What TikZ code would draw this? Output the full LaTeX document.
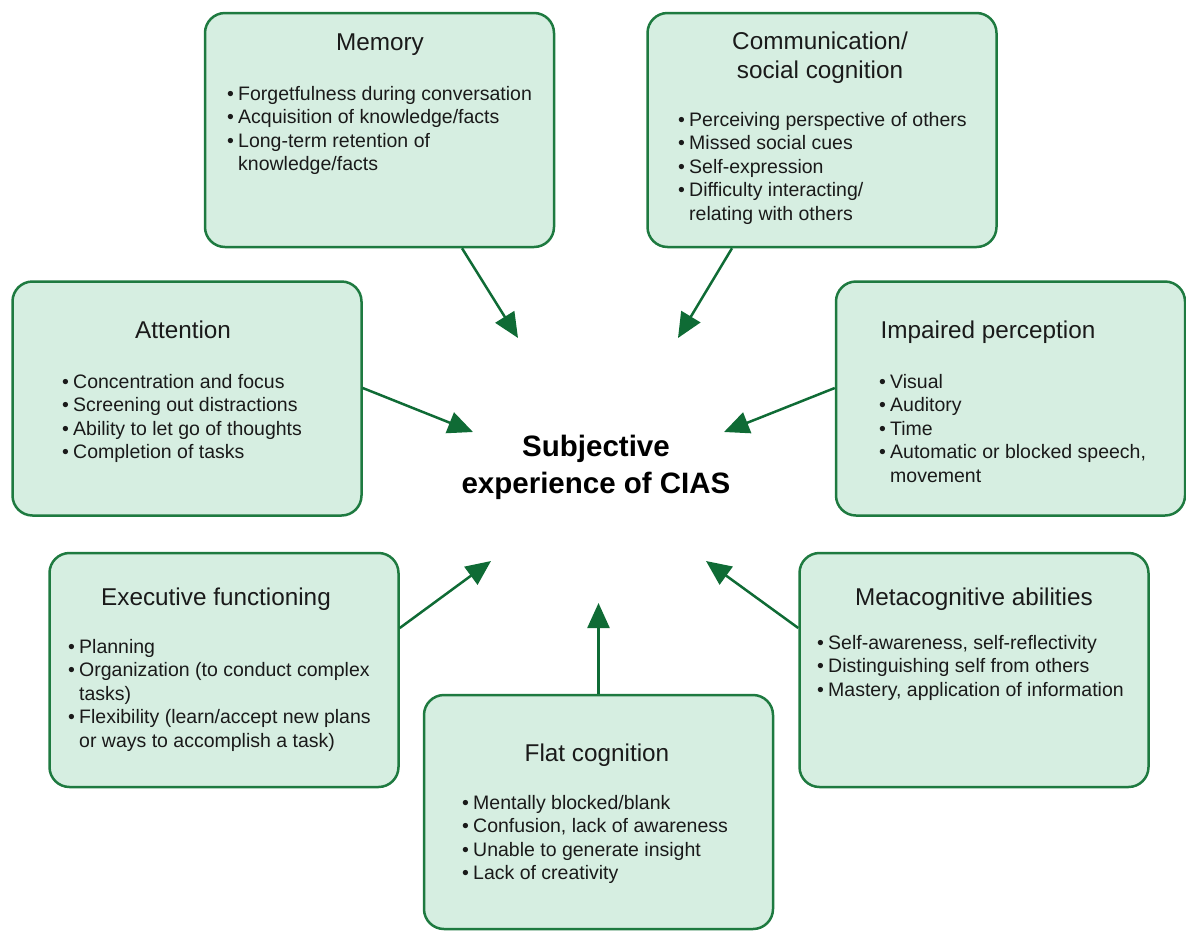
\documentclass[tikz,border=0pt]{standalone}
\usepackage{fontspec}
\setmainfont{Liberation Sans}
\usetikzlibrary{arrows.meta}
\definecolor{boxfill}{HTML}{D6EEE1}
\definecolor{boxline}{HTML}{1E7A40}
\definecolor{arrowc}{HTML}{0F6B35}
\definecolor{txt}{HTML}{1A1A1A}
\newcommand{\bu}{\makebox[11pt][l]{\textbullet}}
\newcommand{\co}{\hspace*{11pt}}
\tikzset{
  panel/.style={draw=boxline, fill=boxfill, line width=2.5pt, rounded corners=20pt,
    minimum width=349pt, minimum height=234pt, inner sep=0pt},
  ttl/.style={anchor=base, inner sep=0pt, text=txt, font=\fontsize{24.3}{29}\selectfont},
  lst/.style={anchor=base west, inner sep=0pt, text=txt, font=\fontsize{19.5}{23.5}\selectfont},
  con/.style={draw=arrowc, line width=2.5pt, -{Triangle[length=25pt,width=22pt]}},
}
\begin{document}
\begin{tikzpicture}[x=1pt,y=-1pt]
\useasboundingbox (0,0) rectangle (1186,930);
% boxes
\node[panel] (mem)  at (379.5,130) {};
\node[panel] (com)  at (822,130) {};
\node[panel] (att)  at (187,398.5) {};
\node[panel] (imp)  at (1010.5,398.5) {};
\node[panel] (exe)  at (224,670) {};
\node[panel] (met)  at (974,670) {};
\node[panel] (flat) at (598.5,812) {};
% titles
\node[ttl] (memT) at (380,50.5) {Memory};
\node[ttl] (comT) at (820,49.5) {\parbox[t]{330pt}{\centering Communication/\\social cognition}};
\node[ttl] (attT) at (183,338.5) {Attention};
\node[ttl] (impT) at (988,338.5) {Impaired perception};
\node[ttl] (exeT) at (216,605.5) {Executive functioning};
\node[ttl] (metT) at (974,605.5) {Metacognitive abilities};
\node[ttl] (flatT) at (597,761.5) {Flat cognition};
% lists
\node[lst] (memL) at (227,100) {\parbox[t]{320pt}{\raggedright
 \bu Forgetfulness during conversation\\
 \bu Acquisition of knowledge/facts\\
 \bu Long-term retention of\\
 \co knowledge/facts}};
\node[lst] (comL) at (678,126) {\parbox[t]{320pt}{\raggedright
 \bu Perceiving perspective of others\\
 \bu Missed social cues\\
 \bu Self-expression\\
 \bu Difficulty interacting/\\
 \co relating with others}};
\node[lst] (attL) at (62,388) {\parbox[t]{300pt}{\raggedright
 \bu Concentration and focus\\
 \bu Screening out distractions\\
 \bu Ability to let go of thoughts\\
 \bu Completion of tasks}};
\node[lst] (impL) at (879,388) {\parbox[t]{300pt}{\raggedright
 \bu Visual\\
 \bu Auditory\\
 \bu Time\\
 \bu Automatic or blocked speech,\\
 \co movement}};
\node[lst] (exeL) at (68,653) {\parbox[t]{330pt}{\raggedright
 \bu Planning\\
 \bu Organization (to conduct complex\\
 \co tasks)\\
 \bu Flexibility (learn/accept new plans\\
 \co or ways to accomplish a task)}};
\node[lst] (metL) at (817,649) {\parbox[t]{330pt}{\raggedright
 \bu Self-awareness, self-reflectivity\\
 \bu Distinguishing self from others\\
 \bu Mastery, application of information}};
\node[lst] (flatL) at (462,809) {\parbox[t]{320pt}{\raggedright
 \bu Mentally blocked/blank\\
 \bu Confusion, lack of awareness\\
 \bu Unable to generate insight\\
 \bu Lack of creativity}};
% centre
\node[anchor=base, inner sep=0pt, text=black, font=\bfseries\fontsize{29.5}{37}\selectfont] (ctr) at (596,456.5)
 {\parbox[t]{340pt}{\centering Subjective\\experience of CIAS}};
% arrow tips
\coordinate (tMem) at (518,338);
\coordinate (tCom) at (678,338);
\coordinate (tAtt) at (473,432);
\coordinate (tImp) at (724,432);
\coordinate (tExe) at (491,561);
\coordinate (tMet) at (706,561);
\coordinate (tFlat) at (598.5,603);
% connectors
\draw[con] ([xshift=82.5pt]mem.south) -- (tMem);
\draw[con] ([xshift=-90pt]com.south) -- (tCom);
\draw[con] ([yshift=10.5pt]att.east) -- (tAtt);
\draw[con] ([yshift=10.5pt]imp.west) -- (tImp);
\draw[con] ([yshift=42pt]exe.east) -- (tExe);
\draw[con] ([yshift=42pt]met.west) -- (tMet);
\draw[con] (flat.north) -- (tFlat);
\end{tikzpicture}
\end{document}
